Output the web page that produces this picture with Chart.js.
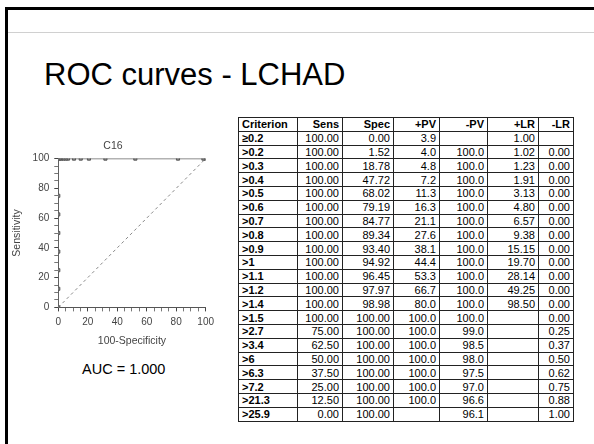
<!DOCTYPE html>
<html>
<head>
<meta charset="utf-8">
<script src="https://cdn.jsdelivr.net/npm/chart.js@4.4.0/dist/chart.umd.min.js"></script>
<style>
    body { margin: 0; width: 594px; height: 444px; background: #fff; overflow: hidden; position: relative;
           font-family: "Liberation Sans", Arial, sans-serif; color: #000; }
    #frame-top { position: absolute; left: 5px; top: 7px; right: 0; height: 3px; background: #000; }
    #frame-left { position: absolute; left: 5px; top: 7px; bottom: 0; width: 3px; background: #000; }
    #rule { position: absolute; left: 8px; right: 0; top: 32px; height: 1px; background: #d0d0d0; }
    h1 { position: absolute; left: 44px; top: 57px; margin: 0; font-weight: normal; font-size: 31px; }
    #chart-box { position: absolute; left: 7px; top: 138px; width: 212px; height: 210px; }
    #auc { position: absolute; left: 82px; top: 361px; font-size: 14.5px; }
    table { position: absolute; left: 238px; top: 117px; border-collapse: collapse; font-size: 11px; table-layout: fixed; }
    td, th { border: 1px solid #222; padding: 0 3px; height: 12.8px; line-height: 12px; text-align: right;
             white-space: nowrap; overflow: hidden; }
    th { font-weight: bold; }
    td.crit, th.crit { text-align: left; font-weight: bold; }
</style>
</head>
<body>
<div id="frame-top"></div>
<div id="frame-left"></div>
<div id="rule"></div>
<h1>ROC curves - LCHAD</h1>
<div id="chart-box"><canvas id="roc-chart"></canvas></div>
<div id="auc">AUC = 1.000</div>
<table id="criteria-table"></table>

<script>
// Criterion table values
const headers = ['Criterion', 'Sens', 'Spec', '+PV', '-PV', '+LR', '-LR'];
const colWidths = [59, 45, 51, 46, 48, 51, 35];
const criteria = ['≥0.2', '>0.2', '>0.3', '>0.4', '>0.5', '>0.6', '>0.7', '>0.8', '>0.9', '>1', '>1.1',
    '>1.2', '>1.4', '>1.5', '>2.7', '>3.4', '>6', '>6.3', '>7.2', '>21.3', '>25.9'];
const sens = ['100.00', '100.00', '100.00', '100.00', '100.00', '100.00', '100.00', '100.00', '100.00', '100.00',
    '100.00', '100.00', '100.00', '100.00', '75.00', '62.50', '50.00', '37.50', '25.00', '12.50', '0.00'];
const spec = ['0.00', '1.52', '18.78', '47.72', '68.02', '79.19', '84.77', '89.34', '93.40', '94.92', '96.45',
    '97.97', '98.98', '100.00', '100.00', '100.00', '100.00', '100.00', '100.00', '100.00', '100.00'];
const ppv = ['3.9', '4.0', '4.8', '7.2', '11.3', '16.3', '21.1', '27.6', '38.1', '44.4', '53.3',
    '66.7', '80.0', '100.0', '100.0', '100.0', '100.0', '100.0', '100.0', '100.0', ''];
const npv = ['', '100.0', '100.0', '100.0', '100.0', '100.0', '100.0', '100.0', '100.0', '100.0', '100.0',
    '100.0', '100.0', '100.0', '99.0', '98.5', '98.0', '97.5', '97.0', '96.6', '96.1'];
const plr = ['1.00', '1.02', '1.23', '1.91', '3.13', '4.80', '6.57', '9.38', '15.15', '19.70', '28.14',
    '49.25', '98.50', '', '', '', '', '', '', '', ''];
const nlr = ['', '0.00', '0.00', '0.00', '0.00', '0.00', '0.00', '0.00', '0.00', '0.00', '0.00',
    '0.00', '0.00', '0.00', '0.25', '0.37', '0.50', '0.62', '0.75', '0.88', '1.00'];

// Axis ticks
const axisMin = 0;
const axisMax = 100;
const majorStep = 20;
const minorStep = 5;

// Build the table
function buildTable() {
    const table = document.getElementById('criteria-table');
    let html = '<colgroup>' + colWidths.map(w => `<col style="width:${w}px">`).join('') + '</colgroup>';
    html += '<tr>' + headers.map((h, i) => `<th class="${i === 0 ? 'crit' : ''}">${h}</th>`).join('') + '</tr>';
    criteria.forEach((c, i) => {
        html += `<tr><td class="crit">${c}</td><td>${sens[i]}</td><td>${spec[i]}</td><td>${ppv[i]}</td>` +
            `<td>${npv[i]}</td><td>${plr[i]}</td><td>${nlr[i]}</td></tr>`;
    });
    table.innerHTML = html;
}

// ROC points: x = 100 - specificity, y = sensitivity
function rocPoints() {
    return criteria.map((c, i) => ({
        x: Math.round((100 - parseFloat(spec[i])) * 100) / 100,
        y: parseFloat(sens[i])
    }));
}

function axisOptions(titleText, titlePad) {
    return {
        type: 'linear',
        min: axisMin,
        max: axisMax,
        title: { display: true, text: titleText, color: '#444', font: { size: 10.5, family: 'Liberation Sans' }, padding: titlePad },
        border: { display: true, color: '#555', width: 1 },
        grid: {
            display: true,
            drawOnChartArea: false,
            drawTicks: true,
            tickLength: 4,
            tickColor: c => (c.tick && c.tick.value % majorStep === 0 ? '#444' : '#777')
        },
        ticks: {
            stepSize: minorStep,
            autoSkip: false,
            maxRotation: 0,
            minRotation: 0,
            color: '#444',
            padding: 5,
            font: { size: 10, family: 'Liberation Sans' },
            callback: v => (v % majorStep === 0 ? v : '')
        }
    };
}

function createRocChart() {
    const ctx = document.getElementById('roc-chart').getContext('2d');
    new Chart(ctx, {
        type: 'scatter',
        data: {
            datasets: [{
                data: rocPoints(),
                showLine: true,
                borderColor: '#666',
                borderWidth: 1.5,
                pointStyle: 'rect',
                pointRadius: 2.2,
                pointBackgroundColor: '#888',
                pointBorderColor: '#555',
                pointBorderWidth: 1
            }, {
                data: [{ x: axisMin, y: axisMin }, { x: axisMax, y: axisMax }],
                showLine: true,
                borderColor: '#888',
                borderWidth: 1,
                borderDash: [3, 3],
                pointRadius: 0
            }]
        },
        options: {
            responsive: true,
            maintainAspectRatio: false,
            animation: false,
            layout: { padding: 0 },
            plugins: {
                legend: { display: false },
                tooltip: { enabled: false },
                title: {
                    display: true,
                    text: 'C16',
                    color: '#444',
                    font: { size: 10.5, weight: 'normal', family: 'Liberation Sans' },
                    padding: { top: 2, bottom: 6 }
                }
            },
            scales: {
                x: axisOptions('100-Specificity', 1),
                y: axisOptions('Sensitivity', 4)
            }
        }
    });
}

buildTable();
createRocChart();
</script>
</body>
</html>
